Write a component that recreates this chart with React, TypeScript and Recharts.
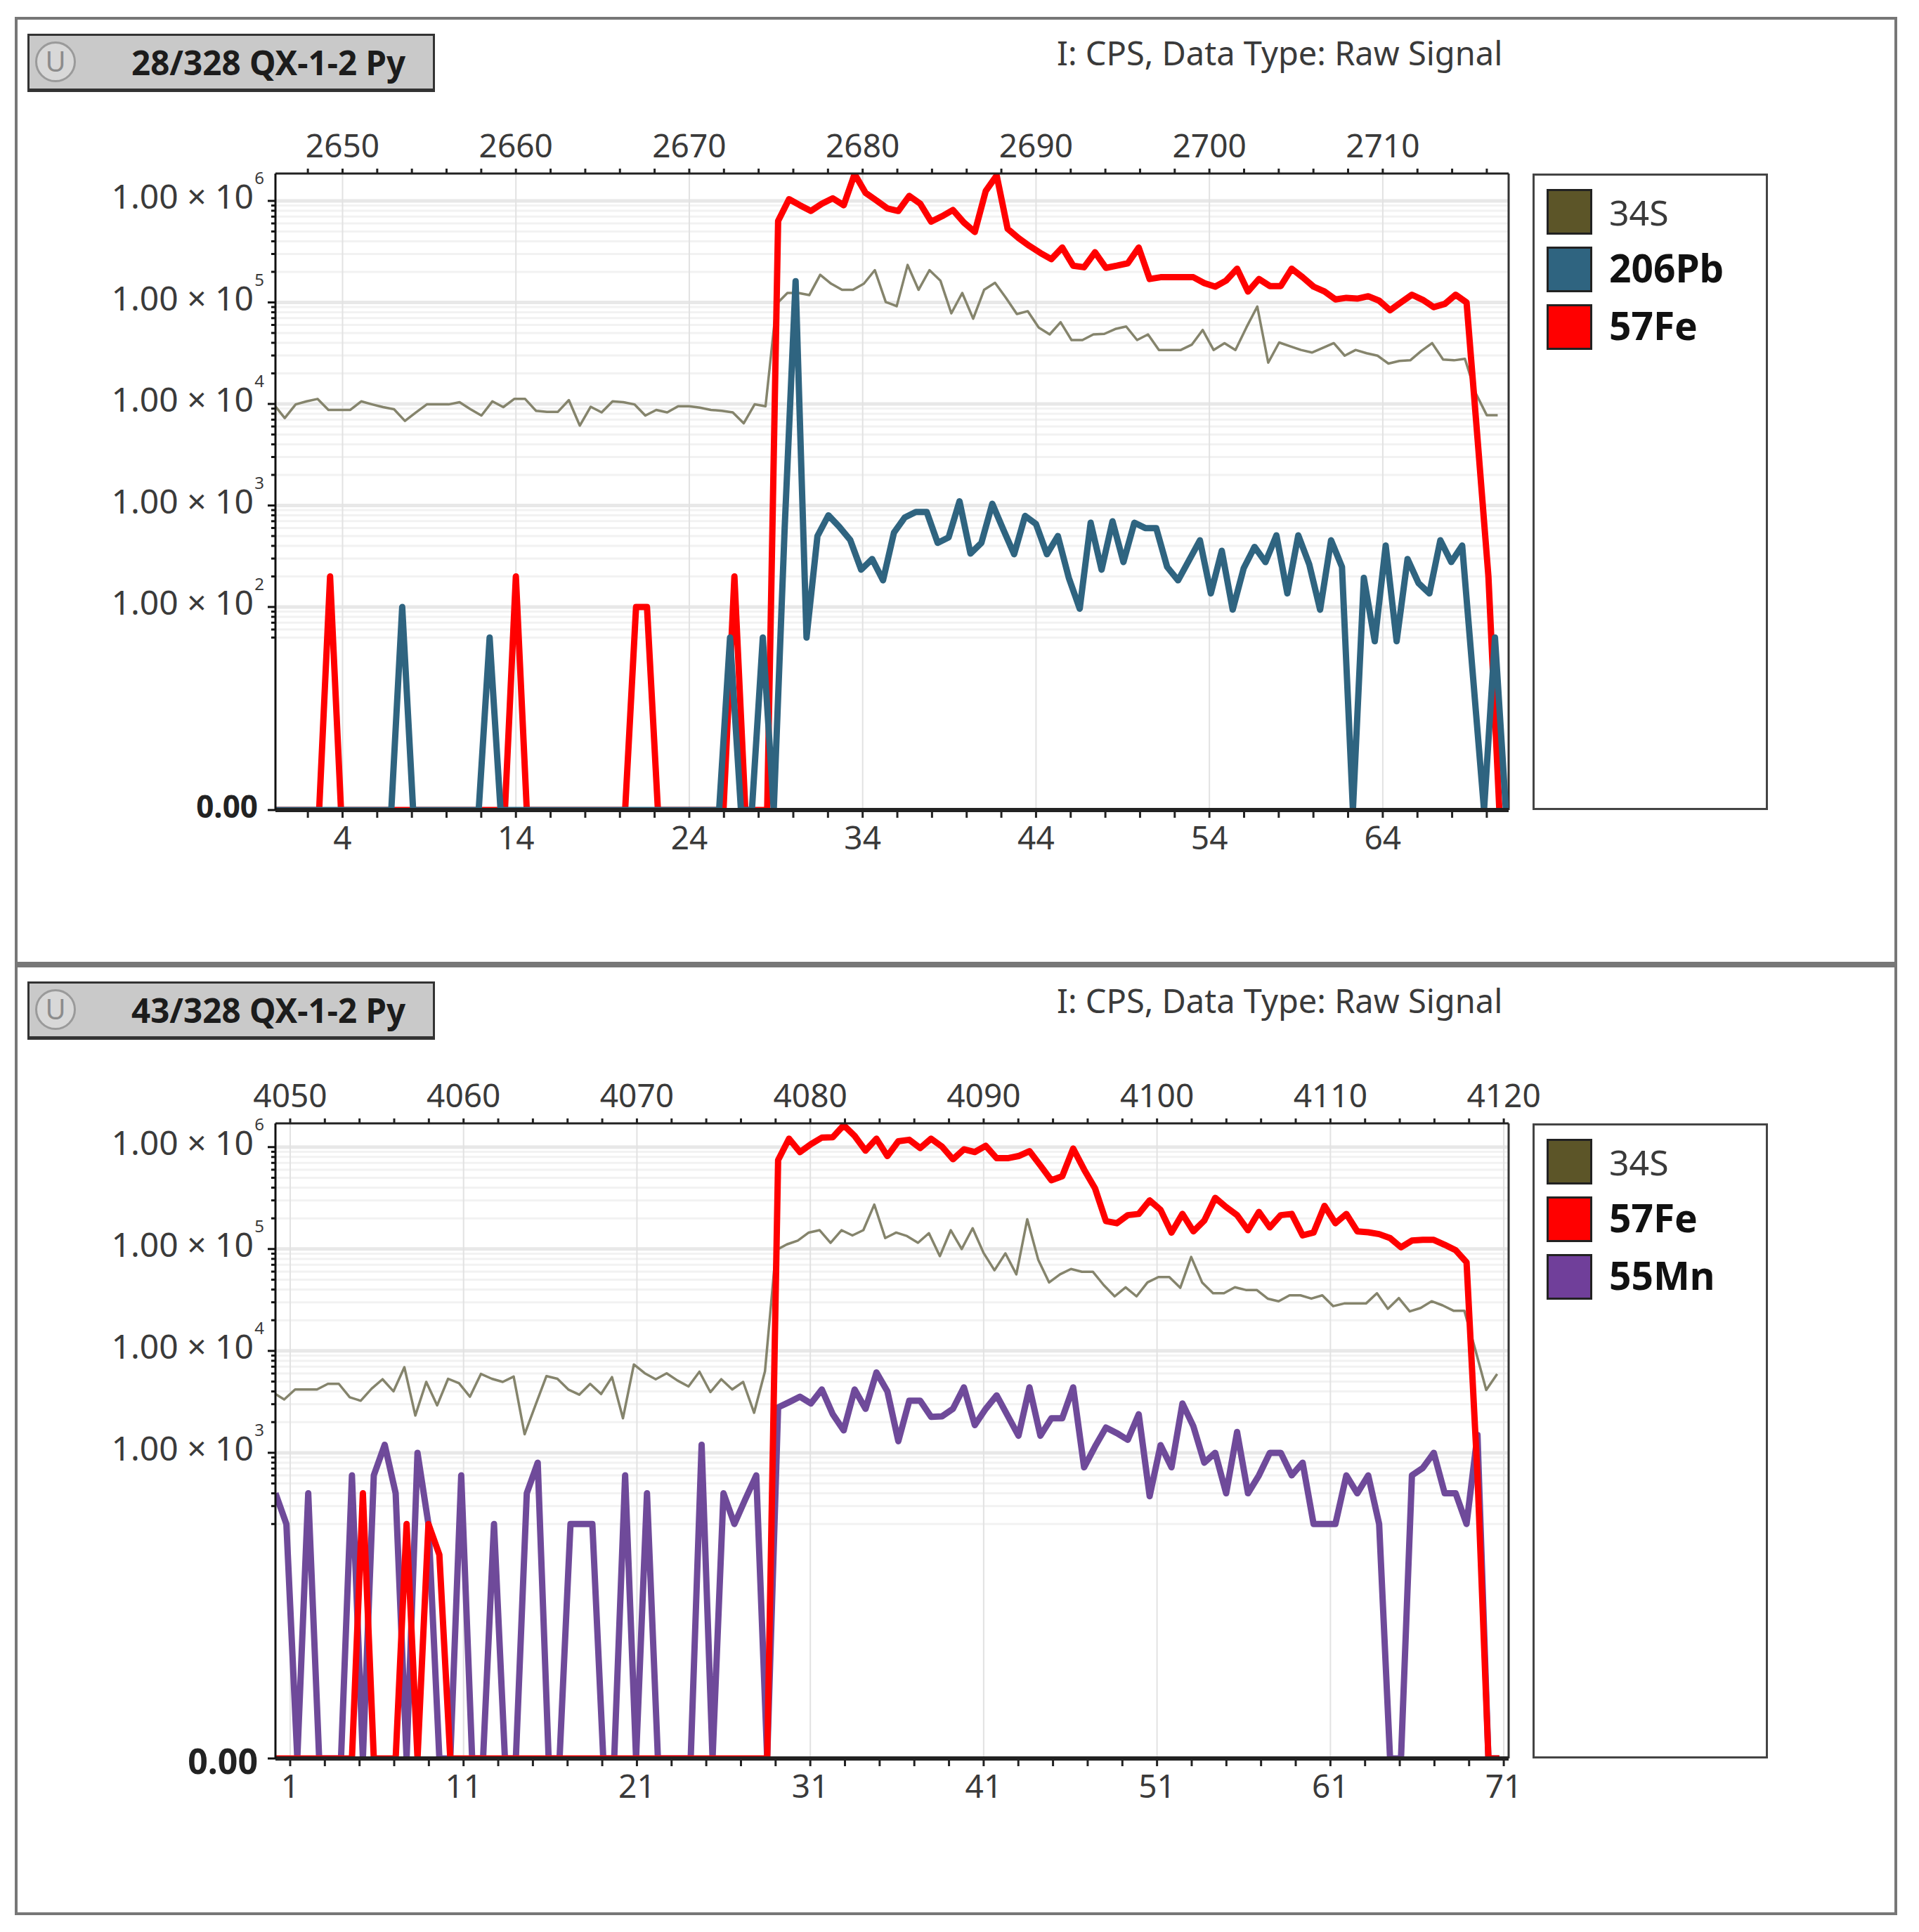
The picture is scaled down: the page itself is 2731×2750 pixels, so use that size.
import { LineChart, Line, XAxis, YAxis, ReferenceLine, Legend } from 'recharts';

// a reading of 1 is a zero count: the instrument draws zero on the bottom of its log axis
const s34Upper = [
  9900, 7260, 9900, 10600, 11200, 8730, 8730, 8730, 10600, 9900, 9300, 8860, 6810, 8250, 9900, 9900, 9900, 10400, 8860, 7690,
  10600, 9300, 11200, 11200, 8550, 8370, 8370, 10900, 6120, 9380, 8250, 10600, 10400, 9900, 7690, 8730, 8250, 9500, 9500, 9180,
  8730, 8550, 8250, 6440, 9900, 9500, 96500, 124000, 124000, 118000, 187000, 153000, 133000, 133000, 153000, 208000, 101000, 91800, 234000, 133000,
  208000, 164000, 78000, 124000, 69100, 133000, 156000, 111000, 76900, 82000, 56600, 48400, 63900, 42600, 42600, 48400, 49000, 54700, 57900, 42600,
  48400, 34000, 34000, 34000, 38300, 53500, 34000, 39700, 34000, 56600, 91200, 25500, 40300, 37000, 34000, 32100, 35700, 39700, 29900, 34000,
  31600, 29900, 25000, 26500, 26900, 33200, 39700, 27400, 26900, 27800, 12700, 7740, 7740,
];
const fe57Upper = [
  1, 1, 1, 1, 1, 200, 1, 1, 1, 1, 1, 1, 1, 1, 1, 1, 1, 1, 1, 1,
  1, 1, 200, 1, 1, 1, 1, 1, 1, 1, 1, 1, 1, 100, 100, 1, 1, 1, 1, 1,
  1, 1, 200, 1, 1, 1, 634000, 1040000, 906000, 796000, 938000, 1060000, 906000, 1840000, 1200000, 1010000, 843000, 796000, 1120000, 938000,
  625000, 706000, 813000, 612000, 494000, 1250000, 1780000, 531000, 430000, 360000, 307000, 267000, 347000, 230000, 222000, 312000, 219000, 230000, 243000, 347000,
  170000, 177000, 177000, 177000, 177000, 155000, 143000, 164000, 215000, 128000, 170000, 145000, 145000, 215000, 177000, 143000, 128000, 107000, 111000, 109000,
  115000, 104000, 83700, 100000, 119000, 106000, 89900, 96500, 119000, 100000, 4600, 200, 1,
];
const pb206Upper = [
  1, 1, 1, 1, 1, 1, 1, 1, 1, 1, 1, 1, 100, 1, 1, 1, 1, 1, 1, 1,
  50, 1, 1, 1, 1, 1, 1, 1, 1, 1, 1, 1, 1, 1, 1, 1, 1, 1, 1, 1,
  1, 1, 50, 1, 1, 50, 1, 600, 162000, 50, 500, 800, 617, 457, 233, 297, 183, 540, 763, 864,
  864, 428, 484, 1100, 336, 428, 1040, 581, 331, 789, 656, 331, 500, 194, 96, 676, 233, 699, 277, 676,
  599, 599, 248, 183, 288, 454, 136, 358, 94, 240, 391, 277, 508, 136, 508, 264, 94, 454, 248, 1,
  194, 46, 403, 46, 297, 172, 136, 454, 277, 403, 20, 1, 50, 1,
];
const s34Lower = [
  3890, 3340, 4180, 4180, 4180, 4750, 4750, 3510, 3240, 4260, 5270, 4010, 6920, 2320, 4960, 2920, 5330, 4810, 3550, 5940,
  5330, 4960, 5600, 1520, 2940, 5660, 5330, 4180, 3720, 4750, 3770, 5530, 2180, 7360, 6030, 5270, 6030, 5110, 4470, 6250,
  3940, 5270, 4180, 4960, 2470, 6320, 97300, 111000, 121000, 145000, 153000, 115000, 153000, 136000, 153000, 273000, 128000, 145000, 134000, 115000,
  143000, 85100, 153000, 100000, 160000, 91600, 61800, 90600, 56400, 196000, 78700, 47000, 56400, 63700, 59800, 59800, 44200, 34300, 42100, 34300,
  47000, 53100, 53100, 41600, 83600, 47000, 36800, 36800, 42100, 39600, 39600, 32600, 30700, 35100, 35100, 32600, 35100, 27500, 29200, 29200,
  29200, 36800, 25900, 33000, 24400, 26400, 30700, 28000, 24800, 24800, 10300, 4130, 5940,
];
const fe57Lower = [
  1, 1, 1, 1, 1, 1, 1, 1, 400, 1, 1, 1, 200, 1, 200, 100, 1, 1, 1, 1,
  1, 1, 1, 1, 1, 1, 1, 1, 1, 1, 1, 1, 1, 1, 1, 1, 1, 1, 1, 1,
  1, 1, 1, 1, 1, 1, 746000, 1210000, 895000, 1070000, 1240000, 1250000, 1640000, 1290000, 923000, 1210000, 817000, 1140000, 1180000, 979000,
  1210000, 1010000, 760000, 951000, 895000, 1030000, 778000, 778000, 817000, 912000, 661000, 473000, 518000, 968000, 603000, 394000, 188000, 179000, 215000, 221000,
  300000, 242000, 145000, 221000, 149000, 190000, 318000, 258000, 215000, 153000, 231000, 163000, 215000, 221000, 136000, 145000, 265000, 179000, 221000, 149000,
  146000, 140000, 128000, 104000, 121000, 123000, 123000, 110000, 97300, 74100, 600, 1, 1,
];
const mn55Lower = [
  400, 200, 1, 400, 1, 1, 1, 600, 1, 600, 1200, 400, 1, 1000, 200, 1, 1, 600, 1, 1,
  200, 1, 1, 400, 800, 1, 1, 200, 200, 200, 1, 1, 600, 1, 400, 1, 1, 1, 1, 1200,
  1, 400, 200, 350, 600, 1, 2790, 3140, 3550, 3050, 4180, 2390, 1660, 4180, 2700, 6140, 4010, 1300, 3240, 3240,
  2250, 2280, 2700, 4390, 1870, 2700, 3660, 2320, 1470, 4390, 1470, 2180, 2180, 4390, 720, 1150, 1770, 1560, 1340, 2390,
  375, 1190, 720, 3050, 1820, 800, 1000, 400, 1600, 400, 600, 1000, 1000, 600, 800, 200, 200, 200, 600, 400,
  600, 200, 1, 1, 600, 710, 1000, 400, 400, 200, 1500, 1, 1,
];

const upperBottomLabels = [4, 14, 24, 34, 44, 54, 64];
const lowerBottomLabels = [1, 11, 21, 31, 41, 51, 61, 71];
const upperTopLabels = [2650, 2660, 2670, 2680, 2690, 2700, 2710];
const lowerTopLabels = [4050, 4060, 4070, 4080, 4090, 4100, 4110, 4120];
const upperXTicks = [2, 4, 6, 8, 10, 12, 14, 16, 18, 20, 22, 24, 26, 28, 30, 32, 34, 36, 38, 40, 42, 44, 46, 48, 50, 52, 54, 56, 58, 60, 62, 64, 66, 68, 70];
const lowerXTicks = [1, 3, 5, 7, 9, 11, 13, 15, 17, 19, 21, 23, 25, 27, 29, 31, 33, 35, 37, 39, 41, 43, 45, 47, 49, 51, 53, 55, 57, 59, 61, 63, 65, 67, 69, 71];

const decades = [1e2, 1e3, 1e4, 1e5, 1e6];
const upperMinor = [50, 60, 70, 80, 90, 200, 300, 400, 500, 600, 700, 800, 900, 2e3, 3e3, 4e3, 5e3, 6e3, 7e3, 8e3, 9e3, 2e4, 3e4, 4e4, 5e4, 6e4, 7e4, 8e4, 9e4, 2e5, 3e5, 4e5, 5e5, 6e5, 7e5, 8e5, 9e5];
const lowerMinor = [200, 300, 400, 500, 600, 700, 800, 900, 2e3, 3e3, 4e3, 5e3, 6e3, 7e3, 8e3, 9e3, 2e4, 3e4, 4e4, 5e4, 6e4, 7e4, 8e4, 9e4, 2e5, 3e5, 4e5, 5e5, 6e5, 7e5, 8e5, 9e5];
const lowerDecades = [1e3, 1e4, 1e5, 1e6];

const upperLegend = [
  { name: '34S', color: '#5c5528', bold: false },
  { name: '206Pb', color: '#2f6480', bold: true },
  { name: '57Fe', color: '#ff0000', bold: true },
];
const lowerLegend = [
  { name: '34S', color: '#5c5528', bold: false },
  { name: '57Fe', color: '#ff0000', bold: true },
  { name: '55Mn', color: '#703f9a', bold: true },
];

const FONT = '"Noto Sans", sans-serif';
const TEXT = '#3a3a3a';
const PLOT_LEFT = 392;
const PLOT_RIGHT = 2147;

// sweeps are evenly spaced in time; each isotope is read a little later or earlier in the sweep
const rows = (values: number[], start: number, shift: number) =>
  values.map((v, k) => ({ x: start + (k + shift) * 0.6303, v }));

function Panel({ top, height, plotTop, plotBottom, yMax, xDomain, xTicks, bottomLabels, topLabels, minor, majors, zeroSize, zeroShift, title, legend, children }: any) {
  const topOffset = topLabels[0] - bottomLabels[0];
  const ticks = [1, ...minor, ...majors].sort((a: number, b: number) => a - b);

  const yTick = ({ y, payload }: any) => {
    const v = payload.value;
    const major = majors.includes(v);
    return (
      <g>
        <line x1={PLOT_LEFT} x2={PLOT_LEFT - (major || v === 1 ? 11 : 6)} y1={y} y2={y} stroke="#111" strokeWidth={3} />
        {v === 1 && (
          <text x={367} y={y + zeroShift} textAnchor="end" dominantBaseline="central" fontFamily={FONT} fontWeight={700} fontSize={zeroSize} fill="#222">0.00</text>
        )}
        {major && (
          <g fontFamily={FONT} fill={TEXT}>
            <text x={361} y={y - 7} textAnchor="end" dominantBaseline="central" fontSize={48}>1.00 × 10</text>
            <text x={369} y={y - 33} textAnchor="middle" dominantBaseline="central" fontSize={24}>{Math.round(Math.log10(v))}</text>
          </g>
        )}
      </g>
    );
  };

  const bottomTick = ({ x, payload }: any) => (
    <g>
      <line x1={x} x2={x} y1={plotBottom} y2={plotBottom + 11} stroke="#222" strokeWidth={3} />
      {bottomLabels.includes(payload.value) && (
        <text x={x} y={plotBottom + 38} textAnchor="middle" dominantBaseline="central" fontFamily={FONT} fontSize={46} fill={TEXT}>{payload.value}</text>
      )}
    </g>
  );

  const topTick = ({ x, payload }: any) => (
    <g>
      <line x1={x} x2={x} y1={plotTop} y2={plotTop - 7} stroke="#222" strokeWidth={3} />
      {bottomLabels.includes(payload.value) && (
        <text x={x} y={plotTop - 41} textAnchor="middle" dominantBaseline="central" fontFamily={FONT} fontSize={46} fill={TEXT}>{payload.value + topOffset}</text>
      )}
    </g>
  );

  const legendBox = () => (
    <div style={{ width: 335, height: plotBottom - plotTop, boxSizing: 'border-box', border: '3px solid #444', background: '#fff', position: 'relative' }}>
      {legend.map((item: any, i: number) => (
        <div key={item.name}>
          <div style={{ position: 'absolute', left: 17, top: 19 + i * 82, width: 65, height: 65, boxSizing: 'border-box', border: '3px solid #222', background: item.color }} />
          <div style={{ position: 'absolute', left: 106, top: (item.bold ? 11 : 14) + i * 82, lineHeight: '76px', fontFamily: FONT, fontSize: item.bold ? 55 : 50, fontWeight: item.bold ? 700 : 400, color: item.bold ? '#111' : TEXT }}>{item.name}</div>
        </div>
      ))}
    </div>
  );

  return (
    <div style={{ position: 'absolute', left: 0, top, width: 2731, height }}>
      <div style={{ position: 'absolute', left: 21, top: 0, width: 2679, height, boxSizing: 'border-box', border: '4px solid #777' }} />
      <div style={{ position: 'absolute', left: 39, top: 24, width: 580, height: 83, boxSizing: 'border-box', border: '3px solid #333', borderBottomWidth: 5, background: '#c9c9c9' }}>
        <div style={{ position: 'absolute', left: 8, top: 8, width: 58, height: 58, boxSizing: 'border-box', border: '3px solid #9a9a9a', borderRadius: '50%', background: '#d8d8d8', textAlign: 'center', lineHeight: '50px', fontFamily: FONT, fontSize: 40, color: '#8c8c8c' }}>U</div>
        <div style={{ position: 'absolute', left: 145, top: 0, lineHeight: '75px', whiteSpace: 'nowrap', fontFamily: FONT, fontSize: 47.5, fontWeight: 700, color: '#1c1c1c' }}>{title}</div>
      </div>
      <div style={{ position: 'absolute', left: 1504, top: 20, lineHeight: '62px', whiteSpace: 'nowrap', fontFamily: FONT, fontSize: 47, color: TEXT }}>I: CPS, Data Type: Raw Signal</div>
      <div style={{ position: 'absolute', left: 0, top: 0 }}>
        <LineChart width={2731} height={height} margin={{ top: 0, right: 2731 - PLOT_RIGHT, bottom: 0, left: 0 }}>
          <XAxis xAxisId="bottom" type="number" dataKey="x" domain={xDomain} ticks={xTicks} interval={0} allowDataOverflow height={height - plotBottom} axisLine={{ stroke: '#222', strokeWidth: 6 }} tickLine={false} tick={bottomTick} />
          <XAxis xAxisId="top" orientation="top" type="number" dataKey="x" domain={xDomain} ticks={xTicks} interval={0} allowDataOverflow height={plotTop} axisLine={{ stroke: '#222', strokeWidth: 3 }} tickLine={false} tick={topTick} />
          <YAxis type="number" scale="log" domain={[1, yMax]} ticks={ticks} interval={0} allowDataOverflow width={PLOT_LEFT} axisLine={{ stroke: '#111', strokeWidth: 3 }} tickLine={false} tick={yTick} />
          {minor.map((v: number) => (
            <ReferenceLine key={v} xAxisId="bottom" y={v} stroke="#f2f2f2" strokeWidth={3} />
          ))}
          {majors.map((v: number) => (
            <ReferenceLine key={v} xAxisId="bottom" y={v} stroke="#e8e8e8" strokeWidth={5} />
          ))}
          {bottomLabels.map((v: number) => (
            <ReferenceLine key={v} xAxisId="bottom" x={v} stroke="#e2e2e2" strokeWidth={2} />
          ))}
          <ReferenceLine xAxisId="bottom" x={xDomain[1]} stroke="#333" strokeWidth={3} />
          {children}
          <Legend layout="vertical" align="center" verticalAlign="middle" content={legendBox} wrapperStyle={{ left: 2181, top: plotTop, width: 335, height: plotBottom - plotTop }} />
        </LineChart>
      </div>
    </div>
  );
}

const upperDomain = [0.13, 71.26];
const lowerDomain = [0.15, 71.28];

export default function App() {
  const line = (name: string, data: any[], stroke: string, strokeWidth: number) => (
    <Line key={name} xAxisId="bottom" name={name} data={data} dataKey="v" type="linear" stroke={stroke} strokeWidth={strokeWidth} strokeLinejoin="round" dot={false} isAnimationActive={false} />
  );
  return (
    <div style={{ position: 'absolute', left: 0, top: 0, width: 2731, height: 2750, background: '#fff', overflow: 'hidden' }}>
      <Panel top={24} height={1349} plotTop={223} plotBottom={1129} yMax={1.86e6} xDomain={upperDomain} xTicks={upperXTicks} bottomLabels={upperBottomLabels} topLabels={upperTopLabels} minor={upperMinor} majors={decades} zeroSize={44} zeroShift={-6} title="28/328 QX-1-2 Py" legend={upperLegend}>
        {line('34S', rows(s34Upper, upperDomain[0], -0.15), '#85846c', 3.5)}
        {line('57Fe', rows(fe57Upper, upperDomain[0], 0), '#ff0000', 9)}
        {line('206Pb', rows(pb206Upper, upperDomain[0], -0.4), '#2f6480', 9)}
      </Panel>
      <Panel top={1373} height={1353} plotTop={226} plotBottom={1130} yMax={1.71e6} xDomain={lowerDomain} xTicks={lowerXTicks} bottomLabels={lowerBottomLabels} topLabels={lowerTopLabels} minor={lowerMinor} majors={lowerDecades} zeroSize={50} zeroShift={3} title="43/328 QX-1-2 Py" legend={lowerLegend}>
        {line('34S', rows(s34Lower, lowerDomain[0], -0.2), '#85846c', 3.5)}
        {line('55Mn', rows(mn55Lower, lowerDomain[0], 0), '#6f4a9a', 9)}
        {line('57Fe', rows(fe57Lower, lowerDomain[0], 0), '#ff0000', 9)}
      </Panel>
    </div>
  );
}
